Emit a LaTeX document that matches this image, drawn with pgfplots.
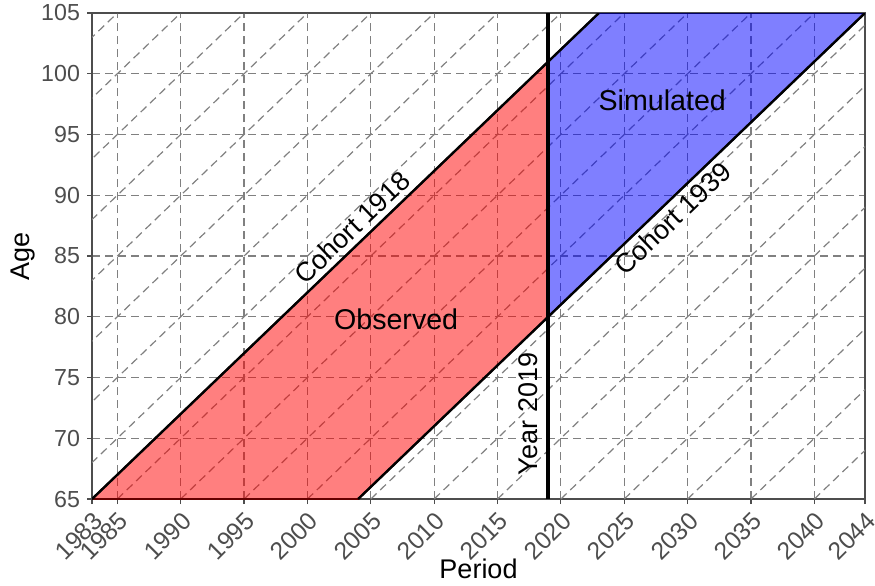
\documentclass[border=0pt]{standalone}
\usepackage{fontspec}
\setmainfont{Liberation Sans}
\usepackage{pgfplots}
\pgfplotsset{compat=1.18}
\definecolor{gridgrey}{HTML}{808080}
\definecolor{axgrey}{HTML}{4D4D4D}
\begin{document}
\begin{tikzpicture}
\begin{axis}[
  scale only axis,
  width=386.5pt, height=243pt,
  xmin=1983, xmax=2044, ymin=65, ymax=105,
  xtick={1983,1985,1990,1995,2000,2005,2010,2015,2020,2025,2030,2035,2040,2044},
  xticklabels={1983,1985,1990,1995,2000,2005,2010,2015,2020,2025,2030,2035,2040,2044},
  ytick={65,70,75,80,85,90,95,100,105},
  /pgf/number format/assume math mode=true,
  /pgf/number format/1000 sep={},
  tick label style={font=\fontsize{11.6}{13}\selectfont, text=axgrey},
  x tick label style={rotate=45, anchor=north east, inner sep=2.2pt, font=\fontsize{12.3}{14}\selectfont},
  grid=major,
  major grid style={gridgrey, dash pattern=on 4pt off 2.5pt, line width=0.6pt},
  tick align=outside, xtick pos=bottom, ytick pos=left,
  major tick length=2.5pt,
  tick style={axgrey, line width=0.6pt},
  axis line style={axgrey, line width=0.7pt},
  xlabel={Period}, ylabel={Age},
  xlabel style={at={(axis description cs:0.5,-0.144)}, anchor=center, font=\fontsize{13.5}{15}\selectfont},
  ylabel style={at={(axis description cs:-0.0893,0.5)}, anchor=center, font=\fontsize{13.5}{15}\selectfont},
  clip=true,
]
% diagonal cohort grid lines (age = year - c, c = 1880,...,1975)
\addplot[gridgrey, dash pattern=on 4pt off 2.5pt, line width=0.6pt, unbounded coords=jump] coordinates {
(1945,65) (1985,105) (nan,nan)
(1950,65) (1990,105) (nan,nan)
(1955,65) (1995,105) (nan,nan)
(1960,65) (2000,105) (nan,nan)
(1965,65) (2005,105) (nan,nan)
(1970,65) (2010,105) (nan,nan)
(1975,65) (2015,105) (nan,nan)
(1980,65) (2020,105) (nan,nan)
(1985,65) (2025,105) (nan,nan)
(1990,65) (2030,105) (nan,nan)
(1995,65) (2035,105) (nan,nan)
(2000,65) (2040,105) (nan,nan)
(2005,65) (2045,105) (nan,nan)
(2010,65) (2050,105) (nan,nan)
(2015,65) (2055,105) (nan,nan)
(2020,65) (2060,105) (nan,nan)
(2025,65) (2065,105) (nan,nan)
(2030,65) (2070,105) (nan,nan)
(2035,65) (2075,105) (nan,nan)
(2040,65) (2080,105)
};
% observed region
\addplot[fill=red, fill opacity=0.5, draw=red!40!black, line width=0.9pt] coordinates {(1983,65) (2019,101) (2019,80) (2004,65)} -- cycle;
% simulated region
\addplot[fill=blue, fill opacity=0.5, draw=blue!40!black, line width=0.9pt] coordinates {(2019,80) (2019,101) (2023,105) (2044,105)} -- cycle;
% cohort lines
\addplot[black, line width=1.2pt] coordinates {(1983,65) (2023,105)} node[pos=0.535, sloped, above, inner sep=2.5pt, font=\fontsize{13.5}{15}\selectfont] {Cohort 1918};
\addplot[black, line width=1.2pt] coordinates {(2004,65) (2044,105)} node[pos=0.6, sloped, below, inner sep=2pt, font=\fontsize{13.5}{15}\selectfont] {Cohort 1939};
% year 2019
\addplot[black, line width=2pt] coordinates {(2019,65) (2019,105)};
\node[rotate=90, anchor=south, inner sep=0pt, font=\fontsize{13.5}{15}\selectfont] at ([xshift=-5pt]axis cs:2019,72) {Year 2019};
\node[font=\fontsize{14.3}{16}\selectfont] at (axis cs:2007,79.8) {Observed};
\node[font=\fontsize{14.3}{16}\selectfont] at (axis cs:2028,97.8) {Simulated};
\coordinate (bl) at (rel axis cs:0,0);
\coordinate (tr) at (rel axis cs:1,1);
\end{axis}
\pgfresetboundingbox
\path ([xshift=-46pt,yshift=-43pt]bl) rectangle ([xshift=5pt,yshift=6.5pt]tr);
\end{tikzpicture}
\end{document}
